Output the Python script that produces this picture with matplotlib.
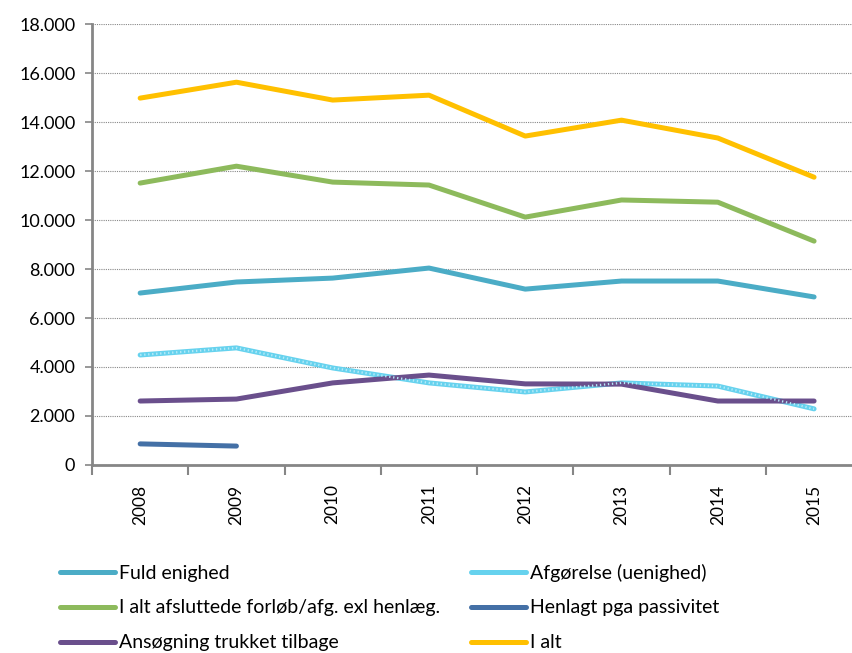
import numpy as np
import matplotlib.pyplot as plt
from matplotlib.ticker import FuncFormatter

plt.rcParams['font.family'] = ['Lato', 'DejaVu Sans']

years = ['2008', '2009', '2010', '2011', '2012', '2013', '2014', '2015']

fuld_enighed = [7020, 7470, 7630, 8040, 7180, 7510, 7510, 6860]
afgoerelse = [4490, 4780, 3960, 3350, 2980, 3350, 3220, 2290]
i_alt_afsl = [11510, 12200, 11550, 11430, 10120, 10820, 10730, 9140]
henlagt = [860, 770, np.nan, np.nan, np.nan, np.nan, np.nan, np.nan]
trukket = [2610, 2690, 3350, 3670, 3310, 3300, 2610, 2610]
i_alt = [14980, 15630, 14900, 15100, 13430, 14080, 13350, 11750]

labels = ['Fuld enighed', 'Afgørelse (uenighed)',
          'I alt afsluttede forløb/afg. exl henlæg.', 'Henlagt pga passivitet',
          'Ansøgning trukket tilbage', 'I alt']
series = [fuld_enighed, afgoerelse, i_alt_afsl, henlagt, trukket, i_alt]
colors = ['#4BACC6', '#66D2EE', '#8DBA5C', '#4470A6', '#6A4F8C', '#FFC000']

fig = plt.figure(figsize=(8.52, 6.53), dpi=100)
ax = fig.add_axes([0.108, 0.288, 0.904, 0.675])

x = np.arange(len(years))
handles = []
for vals, lab, c in zip(series, labels, colors):
    h, = ax.plot(x, vals, color=c, lw=3.6, label=lab, solid_capstyle='round')
    handles.append(h)

# stippled texture on the "Afgørelse" line
ax.plot(x, afgoerelse, color='#B5EAF8', lw=1.6, ls=(0, (0.6, 1.2)))

ax.set_xlim(-0.5, 7.5)
ax.set_ylim(0, 18000)
ax.set_yticks(np.arange(0, 18001, 2000))
ax.yaxis.set_major_formatter(FuncFormatter(lambda v, p: f'{int(v):,}'.replace(',', '.')))
ax.grid(axis='y', color='#888888', ls=(0, (1, 1)), lw=0.8)
ax.set_axisbelow(True)

# tick marks between categories, labels at centres
ax.set_xticks(np.arange(-0.5, 8, 1))
ax.set_xticklabels([])
ax.set_xticks(x, minor=True)
ax.set_xticklabels(years, minor=True, rotation=90)
ax.tick_params(axis='x', which='major', length=7, color='#868686', width=1.5)
ax.tick_params(axis='x', which='minor', length=0, pad=14, labelsize=12.5)
ax.tick_params(axis='y', length=5, color='#868686', width=1.2, labelsize=13, pad=7)

for s in ['top', 'right']:
    ax.spines[s].set_visible(False)
for s in ['left', 'bottom']:
    ax.spines[s].set_color('#868686')
    ax.spines[s].set_linewidth(2)

# row-wise legend order (matplotlib fills columns first)
order = [0, 2, 4, 1, 3, 5]
fig.legend([handles[i] for i in order], [labels[i] for i in order],
           ncol=2, loc='upper left', bbox_to_anchor=(0.07, 0.137), frameon=False,
           fontsize=14, handlelength=2.83, handletextpad=0.2, columnspacing=1.6,
           labelspacing=0.92, borderaxespad=0, borderpad=0)

fig.savefig('out.png', dpi=100)
